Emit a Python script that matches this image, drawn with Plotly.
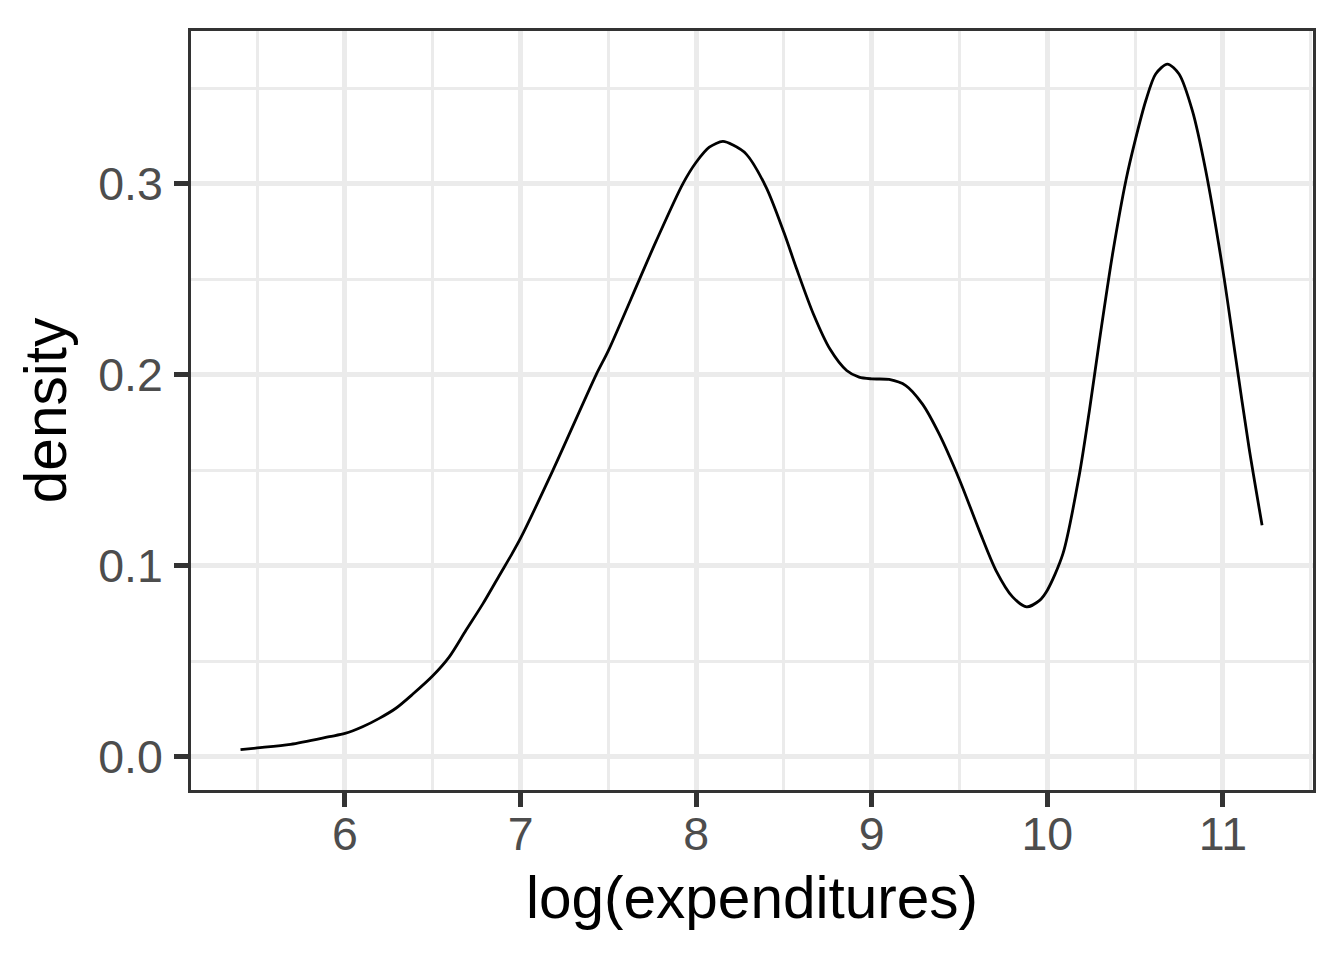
import plotly.graph_objects as go

# density curve
log_exp = [5.405, 5.5, 5.69, 5.911, 6.0, 6.1, 6.195, 6.29, 6.385, 6.5, 6.594, 6.689, 6.784, 6.879,
           6.946, 7.0, 7.184, 7.43, 7.5, 7.677, 7.772, 7.924, 8.0, 8.075, 8.152, 8.21, 8.284, 8.398,
           8.5, 8.572, 8.667, 8.762, 8.857, 8.928, 9.0, 9.099, 9.194, 9.288, 9.383, 9.5, 9.612,
           9.707, 9.802, 9.882, 9.956, 10.0, 10.089, 10.182, 10.239, 10.296, 10.372, 10.448, 10.5,
           10.561, 10.617, 10.684, 10.75, 10.826, 10.902, 11.0, 11.072, 11.148, 11.223]
density = [0.0038, 0.0047, 0.0066, 0.0106, 0.0123, 0.0158, 0.0202, 0.0255, 0.0328, 0.0425, 0.0524, 0.0663, 0.080, 0.095,
           0.1055, 0.1145, 0.150, 0.200, 0.2127, 0.250, 0.270, 0.300, 0.3113, 0.3192, 0.3222, 0.3203, 0.3157, 0.2983,
           0.2745, 0.2555, 0.232, 0.2135, 0.2023, 0.1988, 0.1979, 0.1976, 0.1944, 0.1848, 0.1692, 0.145, 0.1186,
           0.0977, 0.0838, 0.0786, 0.082, 0.0873, 0.1064, 0.1476, 0.181, 0.2175, 0.2635, 0.302, 0.3226,
           0.3436, 0.3575, 0.3627, 0.3575, 0.3383, 0.307, 0.2547, 0.2094, 0.1622, 0.1213]

x_ticks = [6, 7, 8, 9, 10, 11]
y_ticks = [0.0, 0.1, 0.2, 0.3]
y_tick_labels = ["0.0", "0.1", "0.2", "0.3"]

FONT = "Liberation Sans, Arial, sans-serif"

fig = go.Figure()
fig.add_trace(go.Scatter(x=log_exp, y=density, mode="lines",
                         line=dict(color="black", width=2.8, shape="spline", smoothing=0.8),
                         showlegend=False, hoverinfo="skip"))

axis_common = dict(
    showgrid=True, gridcolor="#EBEBEB", gridwidth=4.6,
    zeroline=False, showline=True, linecolor="#333333", linewidth=2.7, mirror=True,
    ticks="outside", ticklen=14, tickwidth=4.5, tickcolor="#333333",
    tickfont=dict(family=FONT, size=46.5, color="#4D4D4D"),
    minor=dict(showgrid=True, gridcolor="#EBEBEB", gridwidth=2.6, ticks=""),
)

fig.update_layout(
    width=1336, height=952,
    margin=dict(l=183, r=31, t=23, b=170),
    paper_bgcolor="white", plot_bgcolor="white",
    font=dict(family=FONT),
    xaxis=dict(range=[5.123, 11.513], tickvals=x_ticks,
               title=dict(text="log(expenditures)", font=dict(family=FONT, size=58.5, color="black"), standoff=19),
               ticklabelstandoff=-13,
               **axis_common),
    yaxis=dict(range=[-0.0173, 0.380], tickvals=y_ticks, ticktext=y_tick_labels,
               title=dict(text="density", font=dict(family=FONT, size=58.5, color="black"), standoff=13),
               ticklabelstandoff=2,
               **axis_common),
)
fig.update_xaxes(minor=dict(tickvals=[5.5, 6.5, 7.5, 8.5, 9.5, 10.5, 11.5]))
fig.update_yaxes(minor=dict(tickvals=[0.05, 0.15, 0.25, 0.35]))

fig.write_html("out.html")
